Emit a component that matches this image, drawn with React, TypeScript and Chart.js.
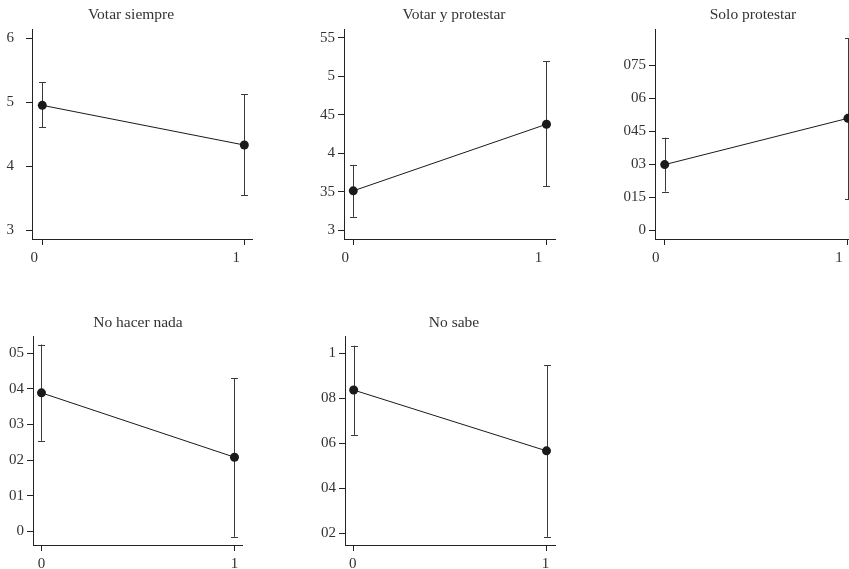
import React, { useEffect, useRef } from "react";
import { Chart, registerables } from "chart.js";

Chart.register(...registerables);

// ---------- data ----------
const panelTitles = ["Votar siempre", "Votar y protestar", "Solo protestar", "No hacer nada", "No sabe"];
const xValues = [0, 1];
const xTickLabels = ["0", "1"];

const meanValues = [
  [4.95, 4.33],
  [0.3513, 0.4379],
  [0.0298, 0.0509],
  [0.0389, 0.0208],
  [0.0837, 0.0567],
];
const lowerValues = [
  [4.61, 3.55],
  [0.3175, 0.357],
  [0.0175, 0.0141],
  [0.0254, -0.0016],
  [0.0638, 0.0185],
];
const upperValues = [
  [5.31, 5.125],
  [0.385, 0.5195],
  [0.0421, 0.0875],
  [0.0525, 0.043],
  [0.1034, 0.0948],
];

const yTickValues = [
  [3, 4, 5, 6],
  [0.3, 0.35, 0.4, 0.45, 0.5, 0.55],
  [0, 0.015, 0.03, 0.045, 0.06, 0.075],
  [0, 0.01, 0.02, 0.03, 0.04, 0.05],
  [0.02, 0.04, 0.06, 0.08, 0.1],
];
const yTickLabels = [
  ["3", "4", "5", "6"],
  ["3", "35", "4", "45", "5", "55"],
  ["0", "015", "03", "045", "06", "075"],
  ["0", "01", "02", "03", "04", "05"],
  ["02", "04", "06", "08", "1"],
];
const yLimits = [
  [2.864, 6.141],
  [0.2887, 0.5617],
  [-0.0041, 0.0916],
  [-0.0039, 0.0549],
  [0.0149, 0.1077],
];
const xLimits = [
  [-0.051, 1.038],
  [-0.048, 1.044],
  [-0.053, 1.044],
  [-0.044, 1.039],
  [-0.045, 1.044],
];

// ---------- layout ----------
const PAGE_W = 849;
const PAGE_H = 569;
const CANVAS_W = 900;
const Y_AXIS_W = 44;
const X_AXIS_H = 30;
const chartAreas = [
  { left: 32, top: 29, right: 252, bottom: 239 },
  { left: 344, top: 29, right: 555, bottom: 239 },
  { left: 655, top: 29, right: 856, bottom: 239 },
  { left: 33, top: 336, right: 242, bottom: 545 },
  { left: 345, top: 336, right: 555, bottom: 545 },
];
const titlePositions = [
  { x: 131, y: 19 },
  { x: 454, y: 19 },
  { x: 753, y: 19 },
  { x: 138, y: 327 },
  { x: 454, y: 327 },
];
const yLabelPadding = [12, 3, 3, 3, 3];
const xLabelShift = [-8, -8, -9, 0, -1];

const FONT_FAMILY = "'Liberation Serif', 'DejaVu Serif', serif";
const TEXT_COLOR = "#333333";
const AXIS_COLOR = "#222222";
const LINE_COLOR = "#1a1a1a";
const ERR_COLOR = "#3a3a3a";

function makePlugin(i: number) {
  return {
    id: "errbars" + i,
    beforeDatasetsDraw(chart: any) {
      const ctx = chart.ctx;
      const xs = chart.scales.x;
      const ys = chart.scales.y;
      ctx.save();
      ctx.strokeStyle = ERR_COLOR;
      ctx.lineWidth = 1;
      xValues.forEach((xv, j) => {
        const px = Math.round(xs.getPixelForValue(xv)) + 0.5;
        const lo = ys.getPixelForValue(lowerValues[i][j]);
        const hi = ys.getPixelForValue(upperValues[i][j]);
        ctx.beginPath();
        ctx.moveTo(px, lo);
        ctx.lineTo(px, hi);
        ctx.moveTo(px - 3.5, Math.round(lo) + 0.5);
        ctx.lineTo(px + 3.5, Math.round(lo) + 0.5);
        ctx.moveTo(px - 3.5, Math.round(hi) + 0.5);
        ctx.lineTo(px + 3.5, Math.round(hi) + 0.5);
        ctx.stroke();
      });
      ctx.restore();
    },
    afterDraw(chart: any) {
      const ctx = chart.ctx;
      ctx.save();
      ctx.font = `15.5px ${FONT_FAMILY}`;
      ctx.fillStyle = TEXT_COLOR;
      ctx.textAlign = "center";
      ctx.textBaseline = "alphabetic";
      ctx.fillText(panelTitles[i], titlePositions[i].x, titlePositions[i].y);
      ctx.restore();
    },
  };
}

function Panel({ i }: { i: number }) {
  const ref = useRef<HTMLCanvasElement | null>(null);
  useEffect(() => {
    if (!ref.current) return;
    const ca = chartAreas[i];
    const tickFont = { family: FONT_FAMILY, size: 15 };
    const chart = new Chart(ref.current, {
      type: "line",
      data: {
        datasets: [
          {
            data: xValues.map((x, j) => ({ x, y: meanValues[i][j] })),
            borderColor: LINE_COLOR,
            borderWidth: 1,
            pointRadius: 4.5,
            pointBackgroundColor: LINE_COLOR,
            pointBorderWidth: 0,
            tension: 0,
          },
        ],
      },
      options: {
        responsive: false,
        animation: false,
        devicePixelRatio: 1,
        layout: {
          padding: {
            left: ca.left - Y_AXIS_W,
            top: ca.top,
            right: CANVAS_W - ca.right,
            bottom: PAGE_H - ca.bottom - X_AXIS_H,
          },
        },
        plugins: { legend: { display: false }, tooltip: { enabled: false }, title: { display: false } },
        scales: {
          x: {
            type: "linear",
            position: "bottom",
            min: xLimits[i][0],
            max: xLimits[i][1],
            afterBuildTicks: (s: any) => {
              s.ticks = xValues.map((v) => ({ value: v }));
            },
            afterFit: (s: any) => {
              s.height = X_AXIS_H;
            },
            ticks: {
              callback: (_v: any, idx: number) => xTickLabels[idx],
              font: tickFont,
              color: TEXT_COLOR,
              padding: 4,
              labelOffset: xLabelShift[i],
              maxRotation: 0,
              autoSkip: false,
            },
            grid: { display: true, drawOnChartArea: false, drawTicks: true, tickLength: 6, color: AXIS_COLOR, lineWidth: 1 },
            border: { display: true, color: AXIS_COLOR, width: 1 },
          },
          y: {
            type: "linear",
            position: "left",
            min: yLimits[i][0],
            max: yLimits[i][1],
            afterBuildTicks: (s: any) => {
              s.ticks = yTickValues[i].map((v) => ({ value: v }));
            },
            afterFit: (s: any) => {
              s.width = Y_AXIS_W;
            },
            ticks: {
              callback: (_v: any, idx: number) => yTickLabels[i][idx],
              font: tickFont,
              color: TEXT_COLOR,
              padding: yLabelPadding[i],
              autoSkip: false,
            },
            grid: { display: true, drawOnChartArea: false, drawTicks: true, tickLength: 6, color: AXIS_COLOR, lineWidth: 1 },
            border: { display: true, color: AXIS_COLOR, width: 1 },
          },
        },
      } as any,
      plugins: [makePlugin(i)],
    });
    return () => chart.destroy();
  }, [i]);
  return (
    <canvas
      ref={ref}
      width={CANVAS_W}
      height={PAGE_H}
      style={{ position: "absolute", left: 0, top: 0, width: CANVAS_W, height: PAGE_H }}
    />
  );
}

export default function App() {
  return (
    <div
      style={{
        position: "absolute",
        left: 0,
        top: 0,
        width: PAGE_W,
        height: PAGE_H,
        overflow: "hidden",
        background: "#ffffff",
      }}
    >
      {panelTitles.map((_, i) => (
        <Panel key={i} i={i} />
      ))}
    </div>
  );
}
